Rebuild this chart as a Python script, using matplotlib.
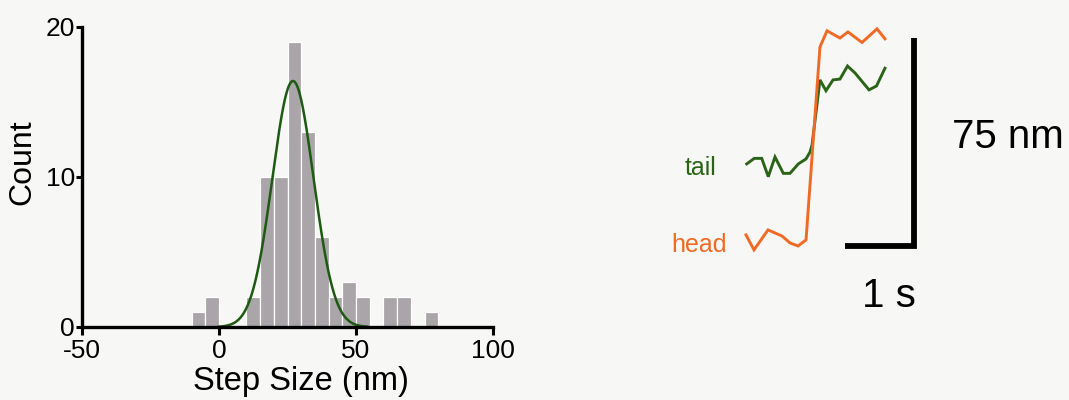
import numpy as np
import matplotlib
matplotlib.use("Agg")
import matplotlib.pyplot as plt

plt.rcParams['font.family'] = ['Liberation Sans', 'DejaVu Sans']
plt.rcParams['axes.unicode_minus'] = False

# ---- histogram of step sizes ----
bin_edges = [-10, -5, 0, 5, 10, 15, 20, 25, 30, 35, 40, 45, 50, 55, 60, 65, 70, 75, 80]
counts = [1, 2, 0, 0, 2, 10, 10, 19, 13, 6, 2, 3, 2, 0, 2, 2, 0, 1]

# Gaussian fit parameters
fit_amp = 16.4
fit_mean = 27.0
fit_sigma = 7.5
fit_range = (0, 54)

x_ticks = [-50, 0, 50, 100]
y_ticks = [0, 10, 20]

# ---- example step traces (time in s, position in nm) ----
head_t = [0.0, 0.116, 0.319, 0.522, 0.638, 0.754, 0.870, 1.072, 1.174, 1.362, 1.478, 1.681, 1.899, 2.014]
head_nm = [4.0, -1.4, 5.8, 3.6, 1.1, 0.0, 2.2, 71.8, 77.6, 75.0, 77.2, 73.4, 78.3, 74.7]

tail_t = [0.010, 0.120, 0.228, 0.323, 0.420, 0.541, 0.638, 0.758, 0.870, 0.928, 0.957,
          1.072, 1.159, 1.261, 1.362, 1.471, 1.580, 1.783, 1.891, 2.014]
tail_nm = [29.6, 31.6, 31.6, 25.0, 32.1, 26.2, 26.2, 29.6, 31.4, 33.9, 36.4,
           59.9, 56.0, 59.9, 60.2, 64.9, 62.4, 56.3, 57.7, 64.1]

scale_nm = 75
scale_s = 1

W, H = 1069, 400
bg = '#f7f7f5'
bar_color = '#a9a5a8'
fit_color = '#1d5a12'
head_color = '#f06a25'
tail_color = '#2b6418'

fig = plt.figure(figsize=(W / 100, H / 100), dpi=100, facecolor=bg)

# ---------------- left panel ----------------
ax = fig.add_axes([82 / W, (H - 327) / H, 411 / W, 300 / H])
ax.set_facecolor('none')
edges = np.array(bin_edges, dtype=float)
ax.bar(edges[:-1], counts, width=np.diff(edges), align='edge',
       color=bar_color, edgecolor='white', linewidth=0.9, zorder=2)

xf = np.linspace(fit_range[0], fit_range[1], 400)
yf = fit_amp * np.exp(-(xf - fit_mean) ** 2 / (2 * fit_sigma ** 2))
ax.plot(xf, yf, color=fit_color, lw=1.8, zorder=3)

ax.set_xlim(-50, 100)
ax.set_ylim(0, 20)
ax.set_xticks(x_ticks)
ax.set_yticks(y_ticks)
for s in ['top', 'right']:
    ax.spines[s].set_visible(False)
for s in ['left', 'bottom']:
    ax.spines[s].set_linewidth(2.4)
    ax.spines[s].set_color('black')
    ax.spines[s].set_zorder(4)
ax.tick_params(axis='x', length=6, width=2.2, pad=3, labelsize=19, direction='out')
ax.tick_params(axis='y', length=4, width=2.2, pad=1, labelsize=19, direction='out')
# keep the lowest count label clear of the first step-size label
ax.get_yticklabels()[0].set_verticalalignment('center_baseline')
ax.set_ylabel('Count', fontsize=23, va='center')
ax.yaxis.set_label_coords(-0.145, 0.55)
ax.set_xlabel('Step Size (nm)', fontsize=23.5, va='top')
ax.xaxis.set_label_coords(0.533, -0.13)

# ---------------- right panel ----------------
px_per_s = 69.0
px_per_nm = 2.773
t0_px, nm0_px = 746.0, 246.0
tlim = (-1.3, 4.6)
nlim = (-30, 85)
left_px = t0_px + px_per_s * tlim[0]
right_px = t0_px + px_per_s * tlim[1]
top_px = nm0_px - px_per_nm * nlim[1]
bottom_px = nm0_px - px_per_nm * nlim[0]
ax2 = fig.add_axes([left_px / W, (H - bottom_px) / H,
                    (right_px - left_px) / W, (bottom_px - top_px) / H])
ax2.set_xlim(*tlim)
ax2.set_ylim(*nlim)
ax2.axis('off')

ax2.plot(tail_t, tail_nm, color=tail_color, lw=2.1, solid_joinstyle='miter', zorder=2)
ax2.plot(head_t, head_nm, color=head_color, lw=2.1, solid_joinstyle='miter', zorder=3)

# scale bars: corner at bottom right
bar_x = 2.435
ax2.plot([bar_x - scale_s, bar_x, bar_x], [0, 0, scale_nm], color='black',
         lw=4.2, solid_joinstyle='miter', solid_capstyle='butt', zorder=4)

ax2.text(-0.435, 25.6, 'tail', color=tail_color, fontsize=18, ha='right', va='baseline')
ax2.text(-0.275, -2.1, 'head', color=head_color, fontsize=18, ha='right', va='baseline')
ax2.text(2.98, 35.3, f'{scale_nm} nm', fontsize=29, ha='left', va='baseline')
ax2.text(2.072, -22.0, f'{scale_s} s', fontsize=29, ha='center', va='baseline')

fig.savefig('out.png', dpi=100, facecolor=bg)
